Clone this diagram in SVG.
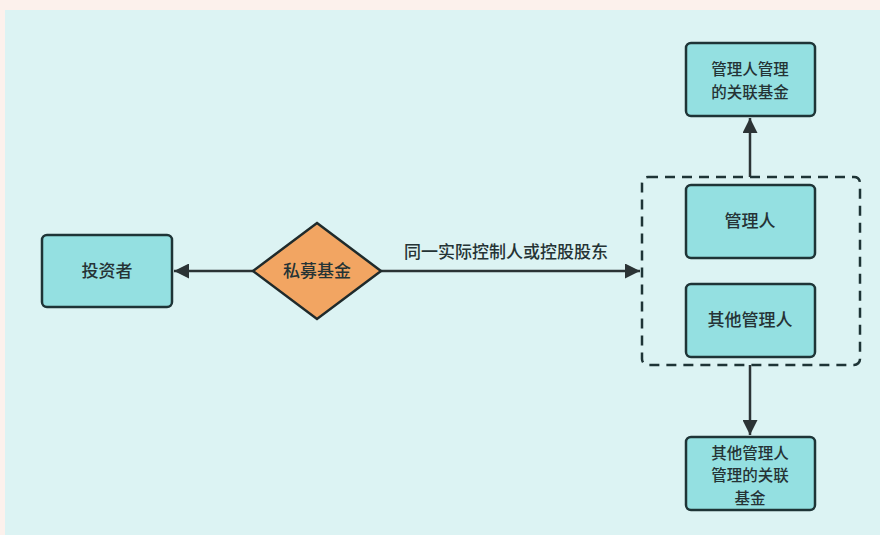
<svg xmlns="http://www.w3.org/2000/svg" width="880" height="535" viewBox="0 0 880 535">
<defs>
<style>
.node{fill:#94e0e1;stroke:#1e3436;stroke-width:2.5}
.dia{fill:#f2a562;stroke:#1f2a2b;stroke-width:2.5}
.t{font-family:"Noto Sans CJK SC","Noto Sans",sans-serif;font-size:17px;fill:#253335;text-anchor:middle;font-weight:500}
.m{font-size:15.5px}
.c{stroke:#2b3335;stroke-width:2.5;fill:none}
</style>
<marker id="ah" viewBox="0 0 10 10" refX="10" refY="5" markerWidth="6.4" markerHeight="6" orient="auto" markerUnits="strokeWidth">
<path d="M0,0 L10,5 L0,10 Z" fill="#2b3335"/>
</marker>
</defs>
<rect width="880" height="535" fill="#fcf1ec"/>
<rect x="5" y="10" width="875" height="525" fill="#dcf3f3"/>
<g id="connectors">
<line class="c" x1="253" y1="271" x2="174" y2="271" marker-end="url(#ah)"/>
<line class="c" x1="381" y1="271" x2="640" y2="271" marker-end="url(#ah)"/>
<text class="t" x="506" y="258">同一实际控制人或控股股东</text>
<line class="c" x1="750" y1="177" x2="750" y2="118" marker-end="url(#ah)"/>
<line class="c" x1="750" y1="365" x2="750" y2="435" marker-end="url(#ah)"/>
</g>
<g id="group-box">
<rect x="642" y="177" width="218" height="188" rx="6" fill="none" stroke="#1e3436" stroke-width="2.5" stroke-dasharray="10,7"/>
</g>
<g id="investor">
<rect class="node" x="42" y="235" width="130" height="72" rx="5"/>
<text class="t" x="107" y="277">投资者</text>
</g>
<g id="fund">
<polygon class="dia" points="317,223 381,271 317,319 253,271"/>
<text class="t" x="317" y="277">私募基金</text>
</g>
<g id="manager-fund">
<rect class="node" x="686" y="43" width="129" height="73" rx="5"/>
<text class="t m" x="750" y="75">管理人管理</text>
<text class="t m" x="750" y="97.5">的关联基金</text>
</g>
<g id="manager">
<rect class="node" x="686" y="185" width="129" height="73" rx="5"/>
<text class="t" x="750" y="227">管理人</text>
</g>
<g id="other-manager">
<rect class="node" x="686" y="284" width="129" height="73" rx="5"/>
<text class="t" x="750" y="326">其他管理人</text>
</g>
<g id="other-manager-fund">
<rect class="node" x="686" y="437" width="129" height="73" rx="5"/>
<text class="t m" x="750" y="458.5">其他管理人</text>
<text class="t m" x="750" y="481">管理的关联</text>
<text class="t m" x="750" y="503.5">基金</text>
</g>
</svg>
